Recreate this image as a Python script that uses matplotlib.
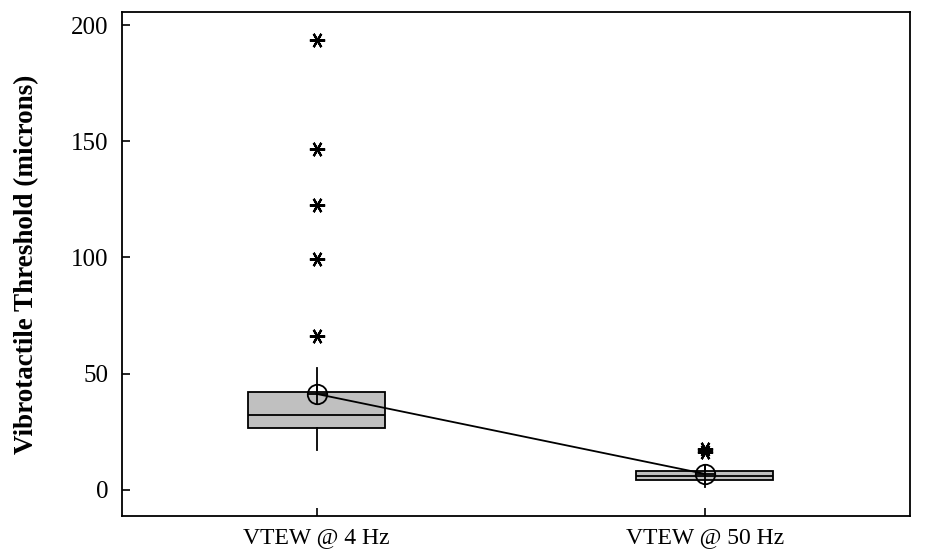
import matplotlib.pyplot as plt
import numpy as np

plt.rcParams['font.family'] = ['Liberation Serif', 'DejaVu Serif']

categorias = ["VTEW @ 4 Hz", "VTEW @ 50 Hz"]
# estadisticas de cada caja
q1 = [26.7, 4.3]
mediana = [32.3, 6.0]
q3 = [42.2, 8.2]
bigote_bajo = [17.2, 1.3]
bigote_alto = [52.5, 10.7]
medias = [41.3, 6.9]
atipicos = [[66.2, 99.4, 122.6, 146.7, 193.5], [16.3, 17.8]]

fig, ax = plt.subplots(figsize=(9.28, 5.5), dpi=100)
fig.subplots_adjust(left=0.132, right=0.981, top=0.978, bottom=0.062)

stats = []
for i in range(len(categorias)):
    stats.append({
        'med': mediana[i], 'q1': q1[i], 'q3': q3[i],
        'whislo': bigote_bajo[i], 'whishi': bigote_alto[i],
        'fliers': atipicos[i], 'label': categorias[i],
    })

posiciones = np.arange(1, len(categorias) + 1)
ax.bxp(stats, positions=posiciones, widths=0.353, patch_artist=True,
       showcaps=False,
       boxprops=dict(facecolor='#c0c0c0', edgecolor='black', linewidth=1.3),
       medianprops=dict(color='black', linewidth=1.3),
       whiskerprops=dict(color='black', linewidth=1.3),
       flierprops=dict(marker=(6, 2, 90), markersize=11, markeredgecolor='black',
                       markeredgewidth=1.6, linestyle='none'))

# medias unidas con una linea
ax.plot(posiciones, medias, color='black', linewidth=1.3, zorder=4)
ax.plot(posiciones, medias, marker='o', markersize=14, markerfacecolor='none',
        markeredgecolor='black', markeredgewidth=1.3, linestyle='none', zorder=5)
ax.plot(posiciones, medias, marker='+', markersize=14, markeredgecolor='black',
        markeredgewidth=1.3, linestyle='none', zorder=5)

ax.set_xlim(0.5, 2.53)
ax.set_ylim(-11.2, 205.6)
ax.set_yticks([0, 50, 100, 150, 200])
ax.set_xticks(posiciones)
ax.set_xticklabels(categorias)
ax.tick_params(axis='both', direction='in', length=6, width=1.2, pad=10)
ax.tick_params(axis='y', labelsize=18)
ax.tick_params(axis='x', labelsize=17, pad=8)
ax.set_ylabel("Vibrotactile Threshold (microns)", fontsize=19.5, fontweight='bold',
              labelpad=23)
for s in ax.spines.values():
    s.set_linewidth(1.3)

plt.savefig("out.png", dpi=100)
